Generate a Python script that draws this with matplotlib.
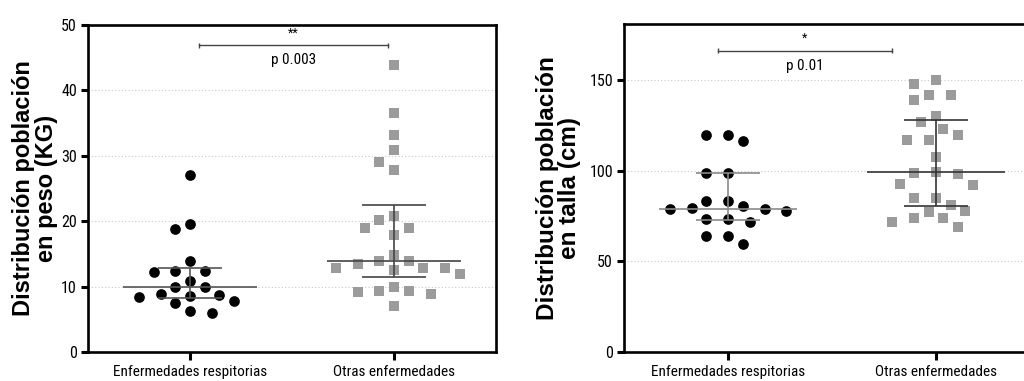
import numpy as np
import matplotlib
matplotlib.use("Agg")
import matplotlib.pyplot as plt
from matplotlib import font_manager

# ---------------- data ----------------
categories = ["Enfermedades respitorias", "Otras enfermedades"]

peso_resp = [27.0, 19.5, 18.8, 13.9, 12.4, 12.2, 12.4, 10.9, 9.9, 9.9,
             8.4, 8.8, 8.7, 8.6, 7.5, 7.8, 5.9, 6.3]
peso_otras = [43.9, 36.5, 33.2, 30.9, 29.1, 27.8, 20.8, 20.2, 18.9, 18.9,
              17.9, 14.9, 13.9, 13.9, 13.4, 12.9, 12.0, 12.9, 12.6, 12.9,
              9.4, 9.2, 10.0, 8.9, 9.4, 7.0]

talla_resp = [119.9, 116.4, 119.9, 98.9, 98.9, 83.6, 83.6, 80.5, 78.7, 77.8,
              78.7, 79.6, 73.3, 71.7, 73.3, 64.0, 64.0, 59.4]
talla_otras = [148.1, 149.9, 142.0, 139.3, 142.0, 126.9, 130.3, 119.8, 123.0,
               116.8, 116.8, 107.8, 99.2, 98.0, 99.0, 92.0, 92.9, 85.0, 85.0,
               81.2, 77.0, 73.8, 69.0, 72.0, 73.8, 77.8]

peso_yticks = [0, 10, 20, 30, 40, 50]
talla_yticks = [0, 50, 100, 150]
peso_ylabel = "Distribución población\nen peso (KG)"
talla_ylabel = "Distribución población\nen talla (cm)"
peso_sig = ("**", "p 0.003")
talla_sig = ("*", "p 0.01")

# ---------------- style ----------------
available = {f.name for f in font_manager.fontManager.ttflist}
narrow_candidates = ["Liberation Sans Narrow", "Arial Narrow", "Roboto Condensed",
                     "DejaVu Sans Condensed", "Open Sans Condensed",
                     "Noto Sans Condensed", "Nimbus Sans Narrow"]
narrow_found = [n for n in narrow_candidates if n in available]
if narrow_found:
    NARROW = [narrow_found[0], "DejaVu Sans"]
    TICK_FS = 11
else:
    NARROW = ["Liberation Sans", "DejaVu Sans"]
    TICK_FS = 10
BOLD = ["Liberation Sans", "DejaVu Sans"]
FIG_W, FIG_H, DPI = 10.24, 3.81, 100


def beeswarm(values, px_x, px_y, step_px=7.3, min_dist=15.0):
    """Prism-like swarm: offsets on a grid of step_px, no two centres closer than min_dist."""
    vals = np.asarray(values, float)
    order = np.argsort(-vals)
    ks = [0]
    for k in range(1, 30):
        ks += [-k, k]
    placed = []
    offs = np.zeros(len(vals))
    for i in order:
        y = vals[i] * px_y
        for k in ks:
            x = k * step_px
            if all((x - px) ** 2 + (y - py) ** 2 >= min_dist ** 2 for px, py in placed):
                break
        placed.append((x, y))
        offs[i] = x / px_x
    return offs


def panel(fig, rect, groups, ylim, yticks, ylabel, sig, sig_x, sig_y, line_cols,
          label_x, label_size):
    ax = fig.add_axes(rect)
    ax.set_xlim(-0.5, 1.5)
    ax.set_ylim(*ylim)
    w_px = rect[2] * FIG_W * DPI
    h_px = rect[3] * FIG_H * DPI
    px_x = w_px / 2.0
    px_y = h_px / (ylim[1] - ylim[0])

    markers = [dict(marker="o", color="black"), dict(marker="s", color="#9b9b9b")]
    for gi, vals in enumerate(groups):
        offs = beeswarm(vals, px_x, px_y)
        ax.plot(gi + offs, vals, linestyle="none", markersize=7.7,
                markeredgewidth=0, zorder=3, **markers[gi])
        q1, med, q3 = np.percentile(vals, [25, 50, 75], method="weibull")
        c = line_cols[gi]
        ax.hlines(med, gi - 0.33, gi + 0.33, color=c, lw=1.2, zorder=4)
        ax.hlines([q1, q3], gi - 0.155, gi + 0.155, color=c, lw=1.2, zorder=4)
        ax.vlines(gi, q1, q3, color=c, lw=1.2, zorder=4)

    # grid
    for t in yticks[1:]:
        if t < ylim[1] - 1:
            ax.axhline(t, color="#c8c8c8", lw=0.8, ls=(0, (1, 2)), zorder=1)

    ax.set_yticks(yticks)
    ax.set_yticklabels([str(t) for t in yticks], family=NARROW, fontsize=TICK_FS + 0.5)
    ax.set_xticks([0, 1])
    ax.set_xticklabels(categories, family=NARROW, fontsize=TICK_FS)
    ax.tick_params(axis="y", length=5, width=2.2, pad=3)
    ax.tick_params(axis="x", length=6, width=2.2, pad=3.5)
    for s in ax.spines.values():
        s.set_linewidth(1.9)

    ax.set_ylabel(ylabel, family=BOLD, fontweight="bold", fontsize=label_size,
                  linespacing=0.95, va="center")
    ax.yaxis.set_label_coords(label_x, 0.5)

    # significance bracket
    x0, x1 = sig_x
    cap = (ylim[1] - ylim[0]) * 0.008
    ax.plot([x0, x1], [sig_y, sig_y], color="#444444", lw=1.0, zorder=5)
    ax.vlines([x0, x1], sig_y - cap, sig_y + cap, color="#444444", lw=1.0)
    xm = (x0 + x1) / 2
    span = ylim[1] - ylim[0]
    ax.text(xm, sig_y + span * 0.018, sig[0], ha="center", va="bottom",
            family=NARROW, fontsize=9)
    ax.text(xm, sig_y - span * 0.025, sig[1], ha="center", va="top",
            family=NARROW, fontsize=TICK_FS)
    return ax


fig = plt.figure(figsize=(FIG_W, FIG_H), dpi=DPI)

panel(fig, [88 / 1024, 29 / 381, 408 / 1024, 327 / 381], [peso_resp, peso_otras],
      (0, 50), peso_yticks, peso_ylabel, peso_sig, (0.045, 0.97), 46.9,
      ["#555555", "#444444"], -0.13, 17)

panel(fig, [624 / 1024, 29 / 381, 416 / 1024, 328 / 381], [talla_resp, talla_otras],
      (0, 181), talla_yticks, talla_ylabel, talla_sig, (-0.05, 0.79), 166.2,
      ["#8a8a8a", "#333333"], -0.157, 17.5)

fig.savefig("out.png", dpi=DPI)
